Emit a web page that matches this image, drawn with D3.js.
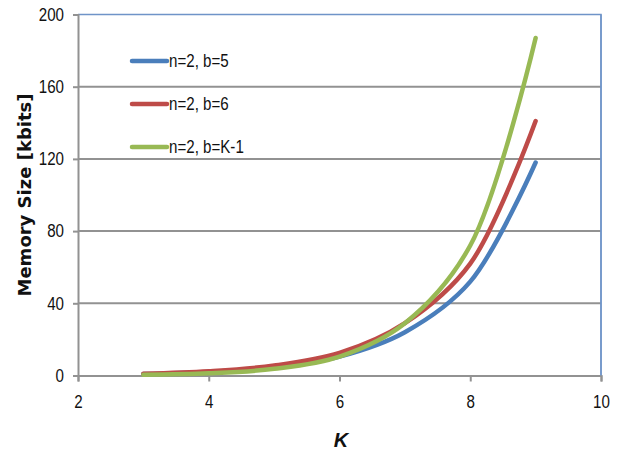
<!DOCTYPE html>
<html>
<head>
<meta charset="utf-8">
<script src="https://cdn.jsdelivr.net/npm/d3@7"></script>
<style>
  body { margin: 0; background: #fff; }
  svg { display: block; }
</style>
</head>
<body>
<div class="chart"></div>
<script>
// data
const kValues = [3, 4, 5, 6, 7, 8, 9]
const seriesNames = ['n=2, b=5', 'n=2, b=6', 'n=2, b=K-1']
const blueValues = [0.8, 2, 4.5, 10.5, 24, 52, 118]
const redValues = [1.0, 2.4, 5.5, 12.5, 29, 62, 141]
const greenValues = [0.4, 1.2, 3.7, 10.5, 29, 72, 187]
const xTicks = [2, 4, 6, 8, 10]
const yTicks = [0, 40, 80, 120, 160, 200]

const colors = ['#4a7ebb', '#be4b48', '#98b954']
const series = [blueValues, redValues, greenValues].map((vals, i) => ({
  name: seriesNames[i],
  color: colors[i],
  points: vals.map((v, j) => ({ k: kValues[j], v })),
}))

const W = 621
const H = 453
const margin = { top: 14.5, right: 20, bottom: 77.5, left: 78 }
const width = 601 - margin.left
const height = H - margin.top - margin.bottom

const svg = d3
  .select('.chart')
  .append('svg')
  .attr('width', W)
  .attr('height', H)

const g = svg.append('g').attr('transform', `translate(${margin.left},${margin.top})`)

const x = d3.scaleLinear().domain([2, 10]).range([0, width])
const y = d3.scaleLinear().domain([0, 200]).range([height, 0])

const tickFont = '"Liberation Sans", Arial, sans-serif'
const squeeze = 0.84

// narrow the glyphs a bit, the original uses a condensed face
function condense(sel) {
  sel.each(function() {
    const len = this.getComputedTextLength()
    d3.select(this)
      .attr('textLength', len * squeeze)
      .attr('lengthAdjust', 'spacingAndGlyphs')
  })
}

// gridlines
g.selectAll('.grid')
  .data(yTicks.filter(d => d > 0 && d < 200))
  .enter()
  .append('line')
  .attr('x1', 0)
  .attr('x2', width)
  .attr('y1', d => y(d))
  .attr('y2', d => y(d))
  .attr('stroke', '#929292')
  .attr('stroke-width', 2)

// plot border (top and right in blue)
g.append('path')
  .attr('d', `M0,${y(200)}H${width}V${height}`)
  .attr('fill', 'none')
  .attr('stroke', '#6f94c8')
  .attr('stroke-width', 1.5)

// y axis
const yAxis = g.append('g')
  .call(d3.axisLeft(y).tickValues(yTicks).tickSize(5).tickPadding(9))
yAxis.select('.domain').attr('stroke', '#929292').attr('stroke-width', 2)
yAxis.selectAll('.tick line').attr('stroke', '#929292').attr('stroke-width', 2)
yAxis.selectAll('.tick text')
  .attr('font-family', tickFont)
  .attr('font-size', 18)
  .attr('fill', '#111')
  .call(condense)

// x axis
const xAxis = g.append('g')
  .attr('transform', `translate(0,${height})`)
  .call(d3.axisBottom(x).tickValues(xTicks).tickSize(6).tickPadding(14))
xAxis.select('.domain').attr('stroke', '#929292').attr('stroke-width', 2)
xAxis.selectAll('.tick line').attr('stroke', '#929292').attr('stroke-width', 2)
xAxis.selectAll('.tick text')
  .attr('font-family', tickFont)
  .attr('font-size', 18)
  .attr('fill', '#111')
  .call(condense)

// right border over the axis end
g.append('line')
  .attr('x1', width).attr('x2', width)
  .attr('y1', y(200)).attr('y2', height)
  .attr('stroke', '#6f94c8').attr('stroke-width', 1.5)

// lines
const line = d3.line()
  .x(d => x(d.k))
  .y(d => y(d.v))
  .curve(d3.curveCatmullRom.alpha(0.5))

g.selectAll('.series')
  .data(series)
  .enter()
  .append('path')
  .attr('class', 'series')
  .attr('d', d => line(d.points))
  .attr('fill', 'none')
  .attr('stroke', d => d.color)
  .attr('stroke-width', 4.5)
  .attr('stroke-linecap', 'round')

// legend
const legend = svg.selectAll('.legend')
  .data(series)
  .enter()
  .append('g')
  .attr('class', 'legend')
  .attr('transform', (d, i) => `translate(132,${61 + i * 43})`)

legend.append('line')
  .attr('x1', 0).attr('x2', 35)
  .attr('y1', 0).attr('y2', 0)
  .attr('stroke', d => d.color)
  .attr('stroke-width', 4.5)
  .attr('stroke-linecap', 'round')

legend.append('text')
  .attr('x', 37)
  .attr('y', 0)
  .attr('dy', '0.35em')
  .attr('font-family', tickFont)
  .attr('font-size', 18)
  .attr('fill', '#111')
  .text(d => d.name)
  .call(condense)

// axis titles
svg.append('text')
  .attr('transform', `translate(31,${margin.top + height / 2}) rotate(-90)`)
  .attr('text-anchor', 'middle')
  .attr('font-family', '"DejaVu Sans", Verdana, sans-serif')
  .attr('font-weight', 'bold')
  .attr('font-size', 18)
  .attr('fill', '#111')
  .text('Memory Size [kbits]')

svg.append('text')
  .attr('x', 341)
  .attr('y', 447)
  .attr('text-anchor', 'middle')
  .attr('font-family', tickFont)
  .attr('font-style', 'italic')
  .attr('font-weight', 'bold')
  .attr('font-size', 20)
  .attr('fill', '#111')
  .text('K')
</script>
</body>
</html>
